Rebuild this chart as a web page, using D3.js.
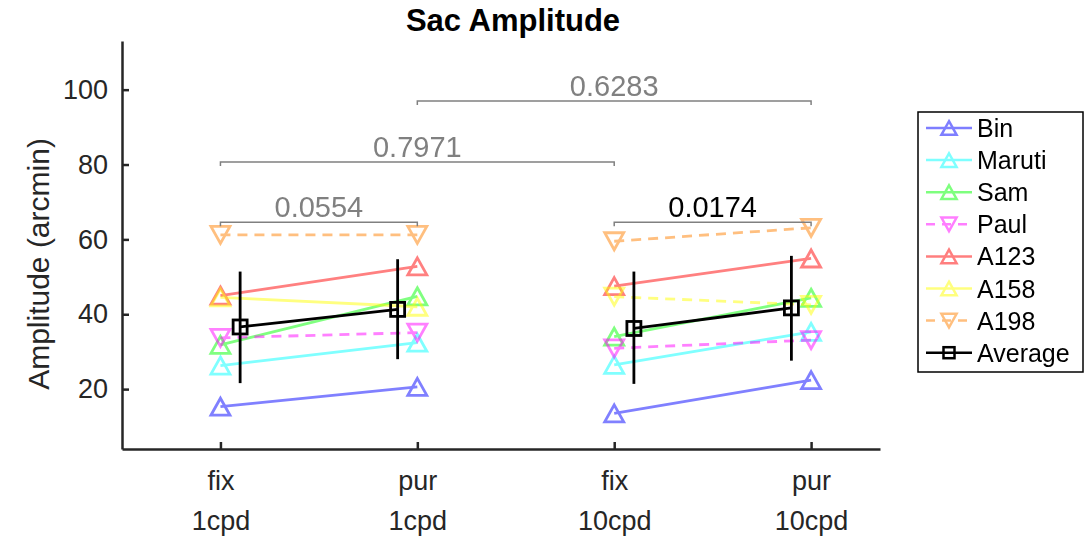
<!DOCTYPE html>
<html lang="en">
<head>
<meta charset="UTF-8">
<title>Sac Amplitude</title>
<script src="https://d3js.org/d3.v7.min.js"></script>
<style>
    body { margin: 0; background: #fff; }
    svg text { font-family: "Liberation Sans", Arial, Helvetica, sans-serif; }
    .axis path, .axis line { stroke: #262626; stroke-width: 2.5px; }
    .axis text { fill: #262626; }
</style>
</head>
<body>
<div id="chart"></div>
<script>
// conditions (x positions 1..4)
const conditions = ["fix\n1cpd", "pur\n1cpd", "fix\n10cpd", "pur\n10cpd"];
const subjects = ["Bin", "Maruti", "Sam", "Paul", "A123", "A158", "A198"];
const subjectColors = ["#0000ff", "#00ffff", "#00ff00", "#ff00ff", "#ff0000", "#ffff00", "#ff8000"];

// amplitude (arcmin) per subject: [fix1, pur1, fix10, pur10]
const amp = {
    Bin:    [15.3, 20.6, 13.5, 22.4],
    Maruti: [26.3, 32.4, 26.5, 35.3],
    Sam:    [31.8, 44.8, 34.0, 44.4],
    Paul:   [33.7, 35.1, 30.9, 33.1],
    A123:   [45.0, 52.8, 47.5, 54.9],
    A158:   [44.5, 42.0, 44.7, 42.5],
    A198:   [61.2, 61.2, 59.5, 63.1]
};
// dashed line + down triangle marker, per group (1cpd, 10cpd)
const decreased1 = ["Paul", "A198"];
const decreased10 = ["Paul", "A158", "A198"];

const avgX = [1.1, 1.9, 3.1, 3.9];
const avgMean = [36.6, 41.3, 36.2, 41.7];
const avgLow = [21.6, 28.0, 21.4, 27.6];
const avgHigh = [51.4, 54.7, 51.4, 55.6];

const yTicks = [20, 40, 60, 80, 100];

// p-value brackets
const brackets = [
    {x1: 1, x2: 2, y: 64.6, label: "0.0554", color: "#808080"},
    {x1: 3, x2: 4, y: 64.6, label: "0.0174", color: "#000000"},
    {x1: 1, x2: 3, y: 80.7, label: "0.7971", color: "#808080"},
    {x1: 2, x2: 4, y: 97.0, label: "0.6283", color: "#808080"}
];

const width = 1089, height = 540;
const svg = d3.select("#chart").append("svg")
    .attr("width", width).attr("height", height);

const x = d3.scaleLinear().domain([0.5, 4.35]).range([122, 880]);
const y = d3.scaleLinear().domain([4, 113]).range([449, 41]);

// title
svg.append("text")
    .attr("x", 513).attr("y", 31)
    .attr("text-anchor", "middle")
    .style("font-weight", "bold").style("font-size", "31px")
    .text("Sac Amplitude");

// y label
svg.append("text")
    .attr("transform", `translate(49,${264}) rotate(-90)`)
    .attr("text-anchor", "middle")
    .style("font-size", "30px").style("fill", "#262626")
    .text("Amplitude (arcmin)");

// axes
const yAxis = svg.append("g").attr("class", "axis")
    .attr("transform", `translate(${x(0.5)},0)`)
    .call(d3.axisLeft(y).tickValues(yTicks).tickSize(-7).tickPadding(14).tickSizeOuter(0));
yAxis.selectAll("text").style("font-size", "27px");

const xAxis = svg.append("g").attr("class", "axis")
    .attr("transform", `translate(0,${y(4)})`)
    .call(d3.axisBottom(x).tickValues([1, 2, 3, 4]).tickSize(-7).tickSizeOuter(0).tickFormat(""));
xAxis.selectAll(".tick").each(function(d) {
    const parts = conditions[d - 1].split("\n");
    const t = d3.select(this).append("text")
        .attr("text-anchor", "middle").style("font-size", "27px");
    parts.forEach((p, i) => t.append("tspan").attr("x", 0).attr("y", 41 + i * 40).text(p));
});

// markers
function triPath(down, s) {
    const hw = 9.5 * s, hh = 8.5 * s;
    return down
        ? `M${-hw},${-hh}L${hw},${-hh}L0,${hh}Z`
        : `M0,${-hh}L${hw},${hh}L${-hw},${hh}Z`;
}

const line = d3.line().x(d => x(d[0])).y(d => y(d[1]));

subjects.forEach((s, i) => {
    const g = svg.append("g").attr("opacity", 0.5);
    [[0, 1, decreased1], [2, 3, decreased10]].forEach(([a, b, dec]) => {
        const down = dec.includes(s);
        const pts = [[a + 1, amp[s][a]], [b + 1, amp[s][b]]];
        g.append("path")
            .attr("d", line(pts))
            .attr("fill", "none")
            .attr("stroke", subjectColors[i])
            .attr("stroke-width", 2.8)
            .attr("stroke-dasharray", down ? "10,7" : null);
        pts.forEach(p => {
            g.append("path")
                .attr("d", triPath(down, 1))
                .attr("transform", `translate(${x(p[0])},${y(p[1])})`)
                .attr("fill", "none")
                .attr("stroke", subjectColors[i])
                .attr("stroke-width", 2.8);
        });
    });
});

// average
[[0, 1], [2, 3]].forEach(([a, b]) => {
    svg.append("path")
        .attr("d", line([[avgX[a], avgMean[a]], [avgX[b], avgMean[b]]]))
        .attr("fill", "none").attr("stroke", "#000").attr("stroke-width", 2.8);
});
avgX.forEach((ax, i) => {
    svg.append("line")
        .attr("x1", x(ax)).attr("x2", x(ax))
        .attr("y1", y(avgLow[i])).attr("y2", y(avgHigh[i]))
        .attr("stroke", "#000").attr("stroke-width", 2.8);
    svg.append("rect")
        .attr("x", x(ax) - 7).attr("y", y(avgMean[i]) - 7)
        .attr("width", 14).attr("height", 14)
        .attr("fill", "none").attr("stroke", "#000").attr("stroke-width", 2.8);
});

// brackets
brackets.forEach(b => {
    const yy = y(b.y);
    svg.append("path")
        .attr("d", `M${x(b.x1)},${yy + 4}V${yy}H${x(b.x2)}V${yy + 4}`)
        .attr("fill", "none").attr("stroke", "#808080").attr("stroke-width", 1.5);
    svg.append("text")
        .attr("x", (x(b.x1) + x(b.x2)) / 2).attr("y", yy - 5)
        .attr("text-anchor", "middle")
        .style("font-size", "29px").style("fill", b.color)
        .text(b.label);
});

// legend
const leg = svg.append("g");
leg.append("rect")
    .attr("x", 918).attr("y", 112).attr("width", 165).attr("height", 260)
    .attr("fill", "#fff").attr("stroke", "#000").attr("stroke-width", 1.5);
const legItems = subjects.map((s, i) => ({name: s, color: subjectColors[i], down: decreased1.includes(s), avg: false}))
    .concat([{name: "Average", color: "#000", avg: true}]);
legItems.forEach((d, i) => {
    const ly = 128 + i * 32.1;
    const g = leg.append("g").attr("opacity", d.avg ? 1 : 0.5);
    g.append("line")
        .attr("x1", 926).attr("x2", 972).attr("y1", ly).attr("y2", ly)
        .attr("stroke", d.color).attr("stroke-width", 2.5)
        .attr("stroke-dasharray", d.down ? "9,7" : null);
    if (d.avg) {
        g.append("rect").attr("x", 943.5).attr("y", ly - 5.5).attr("width", 11).attr("height", 11)
            .attr("fill", "none").attr("stroke", "#000").attr("stroke-width", 2.5);
    } else {
        g.append("path").attr("d", triPath(d.down, 0.8))
            .attr("transform", `translate(949,${ly})`)
            .attr("fill", "none").attr("stroke", d.color).attr("stroke-width", 2.5);
    }
    leg.append("text")
        .attr("x", 977).attr("y", ly + 9)
        .style("font-size", "25px").style("fill", "#000")
        .text(d.name);
});
</script>
</body>
</html>
